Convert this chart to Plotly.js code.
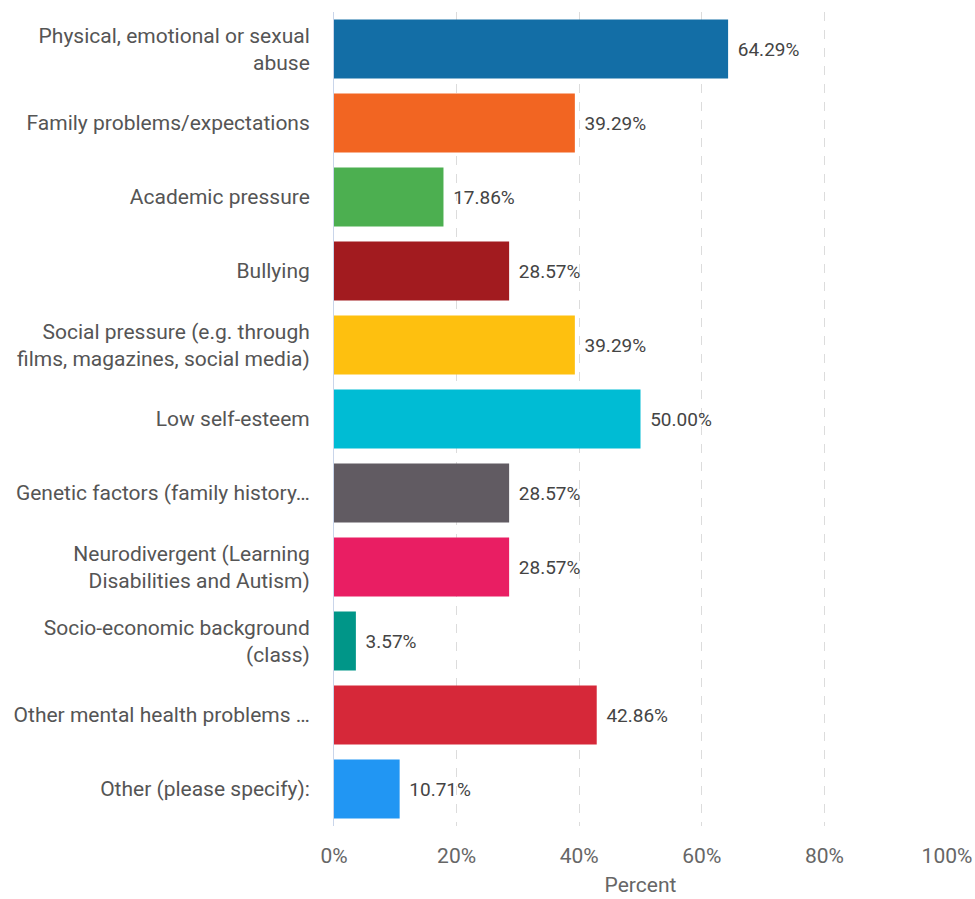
<!DOCTYPE html>
<html>
<head>
<meta charset="utf-8">
<script src="https://cdn.plot.ly/plotly-3.0.1.min.js"></script>
<style>html,body{margin:0;padding:0;background:#fff;}#chart{width:975px;height:899px;}</style>
</head>
<body>
<div id="chart"></div>
<script>
const categories = [
  "Physical, emotional or sexual<br>abuse",
  "Family problems/expectations",
  "Academic pressure",
  "Bullying",
  "Social pressure (e.g. through<br>films, magazines, social media)",
  "Low self-esteem",
  "Genetic factors (family history…",
  "Neurodivergent (Learning<br>Disabilities and Autism)",
  "Socio-economic background<br>(class)",
  "Other mental health problems …",
  "Other (please specify):"
];
const percents = [64.29, 39.29, 17.86, 28.57, 39.29, 50.00, 28.57, 28.57, 3.57, 42.86, 10.71];
const barColors = ["#136ea6", "#f26522", "#4caf50", "#a21b1f", "#fec00f", "#00bcd4", "#615b62", "#e91e63", "#009688", "#d62839", "#2196f3"];
const tickVals = [0, 20, 40, 60, 80, 100];
const tickText = ["0%", "20%", "40%", "60%", "80%", "100%"];

const trace = {
  type: "bar",
  orientation: "h",
  x: percents,
  y: categories,
  marker: {color: barColors},
  text: percents.map(v => "\u00a0\u200a" + v.toFixed(2) + "%"),
  textposition: "outside",
  textfont: {family: "Roboto", size: 19, color: "#444"},
  cliponaxis: false,
  hoverinfo: "none"
};

const layout = {
  width: 975, height: 899,
  margin: {l: 334, r: 28, t: 12, b: 73},
  paper_bgcolor: "#fff", plot_bgcolor: "#fff",
  showlegend: false,
  bargap: 0.2,
  font: {family: "Roboto", color: "#555"},
  xaxis: {
    range: [0, 100],
    tickvals: tickVals,
    ticktext: tickText,
    tickfont: {family: "Roboto", size: 21, color: "#666"},
    showgrid: true,
    gridcolor: "#dcdcdc",
    griddash: "dash",
    zeroline: false,
    showline: false,
    ticks: "",
    ticklabelstandoff: 15,
    title: {text: "Percent", font: {family: "Roboto", size: 21, color: "#666"}, standoff: 10},
    fixedrange: true
  },
  yaxis: {
    autorange: "reversed",
    tickfont: {family: "Roboto", size: 21, color: "#555"},
    showline: true,
    linecolor: "#c9d5ea",
    linewidth: 1,
    showgrid: false,
    zeroline: false,
    ticks: "",
    ticklabelstandoff: 19,
    fixedrange: true
  }
};

Plotly.newPlot("chart", [trace], layout, {displayModeBar: false, staticPlot: true});
</script>
</body>
</html>
